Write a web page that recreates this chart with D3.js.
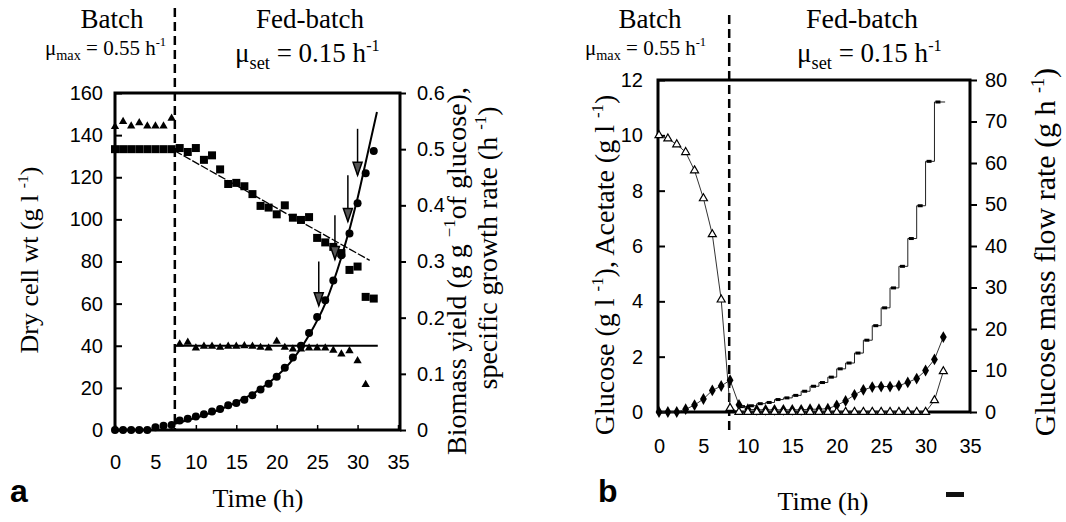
<!DOCTYPE html>
<html>
<head>
<meta charset="utf-8">
<script src="https://cdn.jsdelivr.net/npm/d3@7"></script>
<style>
  body { margin: 0; background: #fff; }
  svg { display: block; }
</style>
</head>
<body>
<svg id="chart" width="1066" height="522"></svg>
<script>
// ---------- data: panel a ----------
const dcwTime = [0,1,2,3,4,5,6,7,8,9,10,11,12,13,14,15,16,17,18,19,20,21,22,23,24,25,26,27,28,29,30,31,32];
const dcw = [0,0,0,0,0,1.3,2.0,2.4,4.5,5.3,6.4,7.5,8.8,10,11.7,12.8,14.4,16.5,19.2,22,25.3,29.6,34.4,40,46,53.6,61.6,71,83,93.3,107.7,121.9,132.5];

const yieldTime = [0,1,2,3,4,5,6,7,8,9,10,11,12,13,14,15,16,17,18,19,20,21,22,23,24,25,26,27,28,29,30,31,32];
const biomassYield = [0.5,0.5,0.5,0.5,0.5,0.5,0.5,0.5,0.502,0.495,0.502,0.481,0.489,0.464,0.438,0.44,0.434,0.42,0.399,0.396,0.384,0.4,0.378,0.374,0.379,0.342,0.334,0.326,0.315,0.285,0.291,0.237,0.234];

const muTime = [0,1,2,3,4,5,6,7,8,9,10,11,12,13,14,15,16,17,18,19,20,21,22,23,24,25,26,27,28,29,30,31];
const mu = [0.540,0.549,0.541,0.547,0.541,0.541,0.541,0.555,0.153,0.156,0.146,0.149,0.149,0.147,0.149,0.149,0.15,0.149,0.147,0.146,0.158,0.147,0.144,0.144,0.146,0.146,0.146,0.142,0.135,0.141,0.123,0.081];

// fitted lines
const fitTime = [7.4,10,12,14,16,18,20,22,24,26,28,30,31,32.4];
const fitDcw = [3,5.8,8.3,11.4,15,19.5,25.5,33.5,45,60,82,110,127,151];
const yieldFitTime = [7.4,31.5];
const yieldFit = [0.497,0.302];
const muFitTime = [7.4,32.5];
const muFit = [0.15,0.15];

const arrowTime = [25.2,27.2,28.8,30.0];
const arrowTop = [80,102,121,143];
const arrowTip = [59,81,99,121];

const batchEndA = 7.4;

// ---------- data: panel b ----------
const glcTime = [0,1,2,3,4,5,6,7,8,9,10,11,12,13,14,15,16,17,18,19,20,21,22,23,24,25,26,27,28,29,30,31,32];
const glucose = [10.0,9.88,9.67,9.39,8.73,7.72,6.42,4.06,0.14,0,0,0,0,0,0,0,0,0,0,0,0,0,0,0,0,0,0,0,0,0,0,0.42,1.47];

const aceTime = [0,1,2,3,4,5,6,7,8,9,10,11,12,13,14,15,16,17,18,19,20,21,22,23,24,25,26,27,28,29,30,31,32];
const acetate = [0,0,0,0.1,0.25,0.47,0.78,0.94,1.15,0.26,0.1,0.08,0.08,0.08,0.08,0.08,0.08,0.1,0.1,0.12,0.24,0.4,0.62,0.8,0.9,0.92,0.92,0.95,1.07,1.21,1.5,1.9,2.71];

const flowTime = [9,10,11,12,13,14,15,16,17,18,19,20,21,22,23,24,25,26,27,28,29,30,31,32.2];
const flow = [1.3,1.5,2.0,2.3,3.0,3.4,4.0,5.0,6.2,7.1,8.4,10.4,11.8,14.2,17.3,20.8,25.1,29.9,35.1,41.8,49.7,60.4,74.7,74.7];

const batchEndB = 7.9;

// ---------- tick labels ----------
const timeTicks = [0,5,10,15,20,25,30,35];
const dcwTicks = [0,20,40,60,80,100,120,140,160];
const yieldTicks = [0,0.1,0.2,0.3,0.4,0.5,0.6];
const concTicks = [0,2,4,6,8,10,12];
const flowTicks = [0,10,20,30,40,50,60,70,80];

const serif = '"Liberation Serif","Times New Roman",serif';
const sans = '"Liberation Sans",Arial,sans-serif';

const svg = d3.select('#chart');

function styleAxis(g, tickWidth) {
  g.select('.domain').remove();
  g.selectAll('.tick line').attr('stroke', '#000').attr('stroke-width', tickWidth);
  g.selectAll('.tick text').attr('fill', '#000').style('font-family', sans).style('font-size', '20px');
}

// title with superscripts: parts = [[text, isSup], ...]
function addTitle(x, y, parts, size, rotate) {
  const t = svg.append('text')
    .attr('transform', `translate(${x},${y})` + (rotate ? ' rotate(-90)' : ''))
    .attr('text-anchor', 'middle')
    .style('font-family', serif)
    .style('font-size', size + 'px');
  let raised = false;
  parts.forEach(p => {
    const s = t.append('tspan').text(p[0]);
    if (p[1] && !raised) { s.attr('dy', -size * 0.38).style('font-size', (size * 0.6) + 'px'); raised = true; }
    else if (p[1]) { s.style('font-size', (size * 0.6) + 'px'); }
    else if (raised) { s.attr('dy', size * 0.38); raised = false; }
  });
}

function addMu(x, y, sub, rest, size) {
  const t = svg.append('text')
    .attr('x', x).attr('y', y)
    .style('font-family', serif)
    .style('font-size', size + 'px');
  t.append('tspan').text('\u03bc');
  t.append('tspan').text(sub).attr('dy', size * 0.25).style('font-size', (size * 0.68) + 'px');
  t.append('tspan').text(rest).attr('dy', -size * 0.25);
  t.append('tspan').text('-1').attr('dy', -size * 0.42).style('font-size', (size * 0.6) + 'px');
}

function addHeader(x, y, txt, size) {
  svg.append('text').attr('x', x).attr('y', y).attr('text-anchor', 'middle')
    .style('font-family', serif).style('font-size', size + 'px').text(txt);
}

// ================= panel a =================
const xA = d3.scaleLinear().domain([0, 35]).range([115, 398]);
const yA = d3.scaleLinear().domain([0, 160]).range([430, 93]);
const yA2 = d3.scaleLinear().domain([0, 0.6]).range([430, 93]);

svg.append('rect')
  .attr('x', 115).attr('y', 93).attr('width', 285).attr('height', 337)
  .attr('fill', 'none').attr('stroke', '#000').attr('stroke-width', 3);

svg.append('g').attr('transform', 'translate(115,0)')
  .call(d3.axisLeft(yA).tickValues(dcwTicks).tickSize(-7).tickPadding(12))
  .call(g => styleAxis(g, 2));
svg.append('g').attr('transform', 'translate(400,0)')
  .call(d3.axisRight(yA2).tickValues(yieldTicks).tickSize(6).tickPadding(11)
    .tickFormat(d => d === 0 ? '0' : d3.format('.1f')(d)))
  .call(g => styleAxis(g, 2));
svg.append('g').attr('transform', 'translate(0,430)')
  .call(d3.axisBottom(xA).tickValues(timeTicks).tickSize(-5).tickPadding(25))
  .call(g => styleAxis(g, 1.5));

// batch / fed-batch divider
svg.append('line')
  .attr('x1', xA(batchEndA)).attr('x2', xA(batchEndA))
  .attr('y1', 8).attr('y2', 430)
  .attr('stroke', '#000').attr('stroke-width', 2.5).attr('stroke-dasharray', '9,5');

// fitted lines
svg.append('path')
  .datum(fitTime.map((t, i) => [t, fitDcw[i]]))
  .attr('d', d3.line().x(d => xA(d[0])).y(d => yA(d[1])).curve(d3.curveMonotoneX))
  .attr('fill', 'none').attr('stroke', '#000').attr('stroke-width', 2);
svg.append('path')
  .datum(yieldFitTime.map((t, i) => [t, yieldFit[i]]))
  .attr('d', d3.line().x(d => xA(d[0])).y(d => yA2(d[1])))
  .attr('fill', 'none').attr('stroke', '#000').attr('stroke-width', 1.3)
  .attr('stroke-dasharray', '8,2');
svg.append('path')
  .datum(muFitTime.map((t, i) => [t, muFit[i]]))
  .attr('d', d3.line().x(d => xA(d[0])).y(d => yA2(d[1])))
  .attr('fill', 'none').attr('stroke', '#000').attr('stroke-width', 1.8);

// squares: biomass yield
svg.append('g').selectAll('rect')
  .data(yieldTime.map((t, i) => [t, biomassYield[i]]))
  .enter().append('rect')
    .attr('x', d => xA(d[0]) - 4).attr('y', d => yA2(d[1]) - 4)
    .attr('width', 8).attr('height', 8).attr('fill', '#000');

// triangles: specific growth rate
svg.append('g').selectAll('path')
  .data(muTime.map((t, i) => [t, mu[i]]))
  .enter().append('path')
    .attr('d', d3.symbol(d3.symbolTriangle, 30))
    .attr('transform', d => `translate(${xA(d[0])},${yA2(d[1])})`)
    .attr('fill', '#000');

// circles: dry cell weight
svg.append('g').selectAll('circle')
  .data(dcwTime.map((t, i) => [t, dcw[i]]))
  .enter().append('circle')
    .attr('cx', d => xA(d[0])).attr('cy', d => yA(d[1]))
    .attr('r', 4).attr('fill', '#000');

// arrows
const arrows = svg.append('g');
arrowTime.forEach((t, i) => {
  const x = xA(t), y0 = yA(arrowTop[i]), y1 = yA(arrowTip[i]);
  arrows.append('line').attr('x1', x).attr('x2', x).attr('y1', y0).attr('y2', y1)
    .attr('stroke', '#000').attr('stroke-width', 1.5);
  arrows.append('path')
    .attr('d', `M${x - 4.5},${y1 - 13}L${x + 4.5},${y1 - 13}L${x},${y1}Z`)
    .attr('fill', '#555').attr('stroke', '#000').attr('stroke-width', 1.5);
});

// texts
addHeader(112, 28, 'Batch', 27);
addMu(45, 55, 'max', ' = 0.55 h', 21);
addHeader(310, 28, 'Fed-batch', 27);
addMu(235, 62, 'set', ' = 0.15 h', 27);

addTitle(38, 260, [['Dry cell wt (g l ', 0], ['-1', 1], [')', 0]], 26, true);
addTitle(466, 271, [['Biomass yield (g g ', 0], ['\u22121', 1], ['of glucose),', 0]], 28, true);
addTitle(497, 248, [['specific growth rate (h ', 0], ['-1', 1], [')', 0]], 28, true);
addTitle(258, 507, [['Time (h)', 0]], 26, false);

svg.append('text').attr('x', 10).attr('y', 502)
  .style('font-family', sans).style('font-weight', 'bold').style('font-size', '32px').text('a');

// ================= panel b =================
const xB = d3.scaleLinear().domain([0, 35]).range([659, 970]);
const yB = d3.scaleLinear().domain([0, 12]).range([412, 80]);
const yB2 = d3.scaleLinear().domain([0, 80]).range([412, 80]);

svg.append('rect')
  .attr('x', 658).attr('y', 80).attr('width', 312).attr('height', 332)
  .attr('fill', 'none').attr('stroke', '#000').attr('stroke-width', 3);

svg.append('g').attr('transform', 'translate(658,0)')
  .call(d3.axisLeft(yB).tickValues(concTicks).tickSize(-7).tickPadding(15))
  .call(g => styleAxis(g, 2));
svg.append('g').attr('transform', 'translate(970,0)')
  .call(d3.axisRight(yB2).tickValues(flowTicks).tickSize(7).tickPadding(8))
  .call(g => styleAxis(g, 2));
svg.append('g').attr('transform', 'translate(0,412)')
  .call(d3.axisBottom(xB).tickValues(timeTicks).tickSize(0).tickPadding(27))
  .call(g => styleAxis(g, 1));

svg.append('line')
  .attr('x1', xB(batchEndB)).attr('x2', xB(batchEndB))
  .attr('y1', 15).attr('y2', 433)
  .attr('stroke', '#000').attr('stroke-width', 2.5).attr('stroke-dasharray', '9,5');

// glucose mass flow rate staircase
svg.append('path')
  .datum(flowTime.map((t, i) => [t, flow[i]]))
  .attr('d', d3.line().x(d => xB(d[0])).y(d => yB2(d[1])).curve(d3.curveStepAfter))
  .attr('fill', 'none').attr('stroke', '#222').attr('stroke-width', 1);
svg.append('g').selectAll('rect')
  .data(flowTime.slice(0, -1).map((t, i) => [t, flow[i]]))
  .enter().append('rect')
    .attr('x', d => xB(d[0]) + 1).attr('y', d => yB2(d[1]) - 1.5)
    .attr('width', 5).attr('height', 3).attr('fill', '#000');

// glucose
svg.append('path')
  .datum(glcTime.map((t, i) => [t, glucose[i]]))
  .attr('d', d3.line().x(d => xB(d[0])).y(d => yB(d[1])))
  .attr('fill', 'none').attr('stroke', '#333').attr('stroke-width', 1);
// acetate
svg.append('path')
  .datum(aceTime.map((t, i) => [t, acetate[i]]))
  .attr('d', d3.line().x(d => xB(d[0])).y(d => yB(d[1])))
  .attr('fill', 'none').attr('stroke', '#333').attr('stroke-width', 1);

svg.append('g').selectAll('path')
  .data(aceTime.map((t, i) => [t, acetate[i]]))
  .enter().append('path')
    .attr('d', d3.symbol(d3.symbolDiamond, 40))
    .attr('transform', d => `translate(${xB(d[0])},${yB(d[1])})`)
    .attr('fill', '#000');

svg.append('g').selectAll('path')
  .data(glcTime.map((t, i) => [t, glucose[i]]))
  .enter().append('path')
    .attr('d', d3.symbol(d3.symbolTriangle, 28))
    .attr('transform', d => `translate(${xB(d[0])},${yB(d[1])})`)
    .attr('fill', '#fff').attr('stroke', '#000').attr('stroke-width', 1.2);

addHeader(650, 28, 'Batch', 27);
addMu(585, 55, 'max', ' = 0.55 h', 21);
addHeader(862, 28, 'Fed-batch', 28);
addMu(797, 62, 'set', ' = 0.15 h', 27);

addTitle(614, 265, [['Glucose (g l ', 0], ['-1', 1], ['), Acetate (g l ', 0], ['-1', 1], [')', 0]], 28, true);
addTitle(1055, 252, [['Glucose mass flow rate (g h ', 0], ['-1', 1], [')', 0]], 30, true);
addTitle(823, 510, [['Time (h)', 0]], 26, false);

svg.append('text').attr('x', 598).attr('y', 502)
  .style('font-family', sans).style('font-weight', 'bold').style('font-size', '32px').text('b');
svg.append('rect').attr('x', 946).attr('y', 492).attr('width', 18).attr('height', 5).attr('fill', '#111');
</script>
</body>
</html>
